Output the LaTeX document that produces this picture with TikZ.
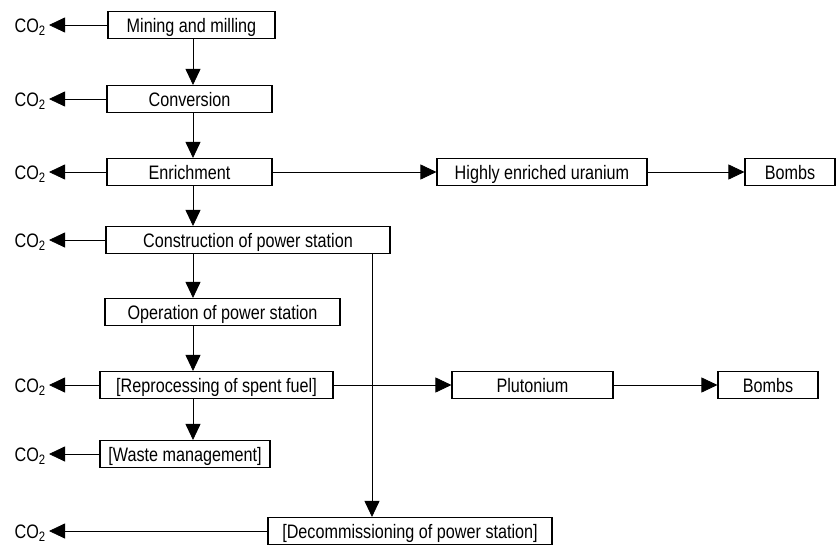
\documentclass[tikz,border=0pt]{standalone}
\usepackage{fontspec}
\setmainfont[FakeStretch=0.83]{Liberation Sans}
\usetikzlibrary{arrows.meta}
\tikzstyle{diagram} = [x = 1pt, y = -1pt]
\tikzstyle{stageBox} = [draw, line width = 1.1pt, minimum height = 27pt, inner sep = 0pt, text height = 14pt, text depth = 0pt, font = \fontsize{19.5}{22}\selectfont]
\tikzstyle{co2Label} = [anchor = east, inner sep = 3pt, text height = 14pt, text depth = 0pt, font = \fontsize{19.5}{22}\selectfont]
\tikzstyle{flowArrow} = [line width = .8pt, -{Triangle[length = 16pt, width = 15pt]}]
\newcommand{\stage}[5]{\node [stageBox, minimum width = #4pt] (#1) at (#2, #3) {#5};}
\newcommand{\emits}[1]{
  \node [co2Label] (co2#1) at (#1 -| co2Column) {CO\textsubscript{2}};
  \draw [flowArrow] (#1) -- (co2#1);
}
\newcommand{\spineArrow}[2]{\draw [flowArrow] (#1.south -| spine) -- (#2.north -| spine);}

\begin{document}
\begin{tikzpicture}[diagram]
  \useasboundingbox (0, 0) rectangle (839, 555);
  \coordinate (co2Column) at (49, 0);
  \coordinate (spine) at (193, 0);
  \coordinate (dropLine) at (372, 0);

  \stage{mining}{191.5}{25}{167}{Mining and milling}
  \stage{conversion}{189.5}{99}{165}{Conversion}
  \stage{enrichment}{189.5}{172}{165}{Enrichment}
  \stage{construction}{248}{240}{284}{Construction of power station}
  \stage{operation}{222.5}{312}{235}{Operation of power station}
  \stage{reprocessing}{216.5}{385}{233}{[Reprocessing of spent fuel]}
  \stage{waste}{185}{454}{170}{[Waste management]}
  \stage{decommissioning}{410}{531}{284}{[Decommissioning of power station]}
  \stage{uranium}{542}{172}{210}{Highly enriched uranium}
  \stage{bombsUranium}{790}{172}{90}{Bombs}
  \stage{plutonium}{532.5}{385}{161}{Plutonium}
  \stage{bombsPlutonium}{768}{385}{100}{Bombs}

  \emits{mining}
  \emits{conversion}
  \emits{enrichment}
  \emits{construction}
  \emits{reprocessing}
  \emits{waste}
  \emits{decommissioning}

  \spineArrow{mining}{conversion}
  \spineArrow{conversion}{enrichment}
  \spineArrow{enrichment}{construction}
  \spineArrow{construction}{operation}
  \spineArrow{operation}{reprocessing}
  \spineArrow{reprocessing}{waste}
  \draw [flowArrow] (construction.south -| dropLine) -- (decommissioning.north -| dropLine);

  \draw [flowArrow] (enrichment) -- (uranium);
  \draw [flowArrow] (uranium) -- (bombsUranium);
  \draw [flowArrow] (reprocessing) -- (plutonium);
  \draw [flowArrow] (plutonium) -- (bombsPlutonium);
\end{tikzpicture}
\end{document}
